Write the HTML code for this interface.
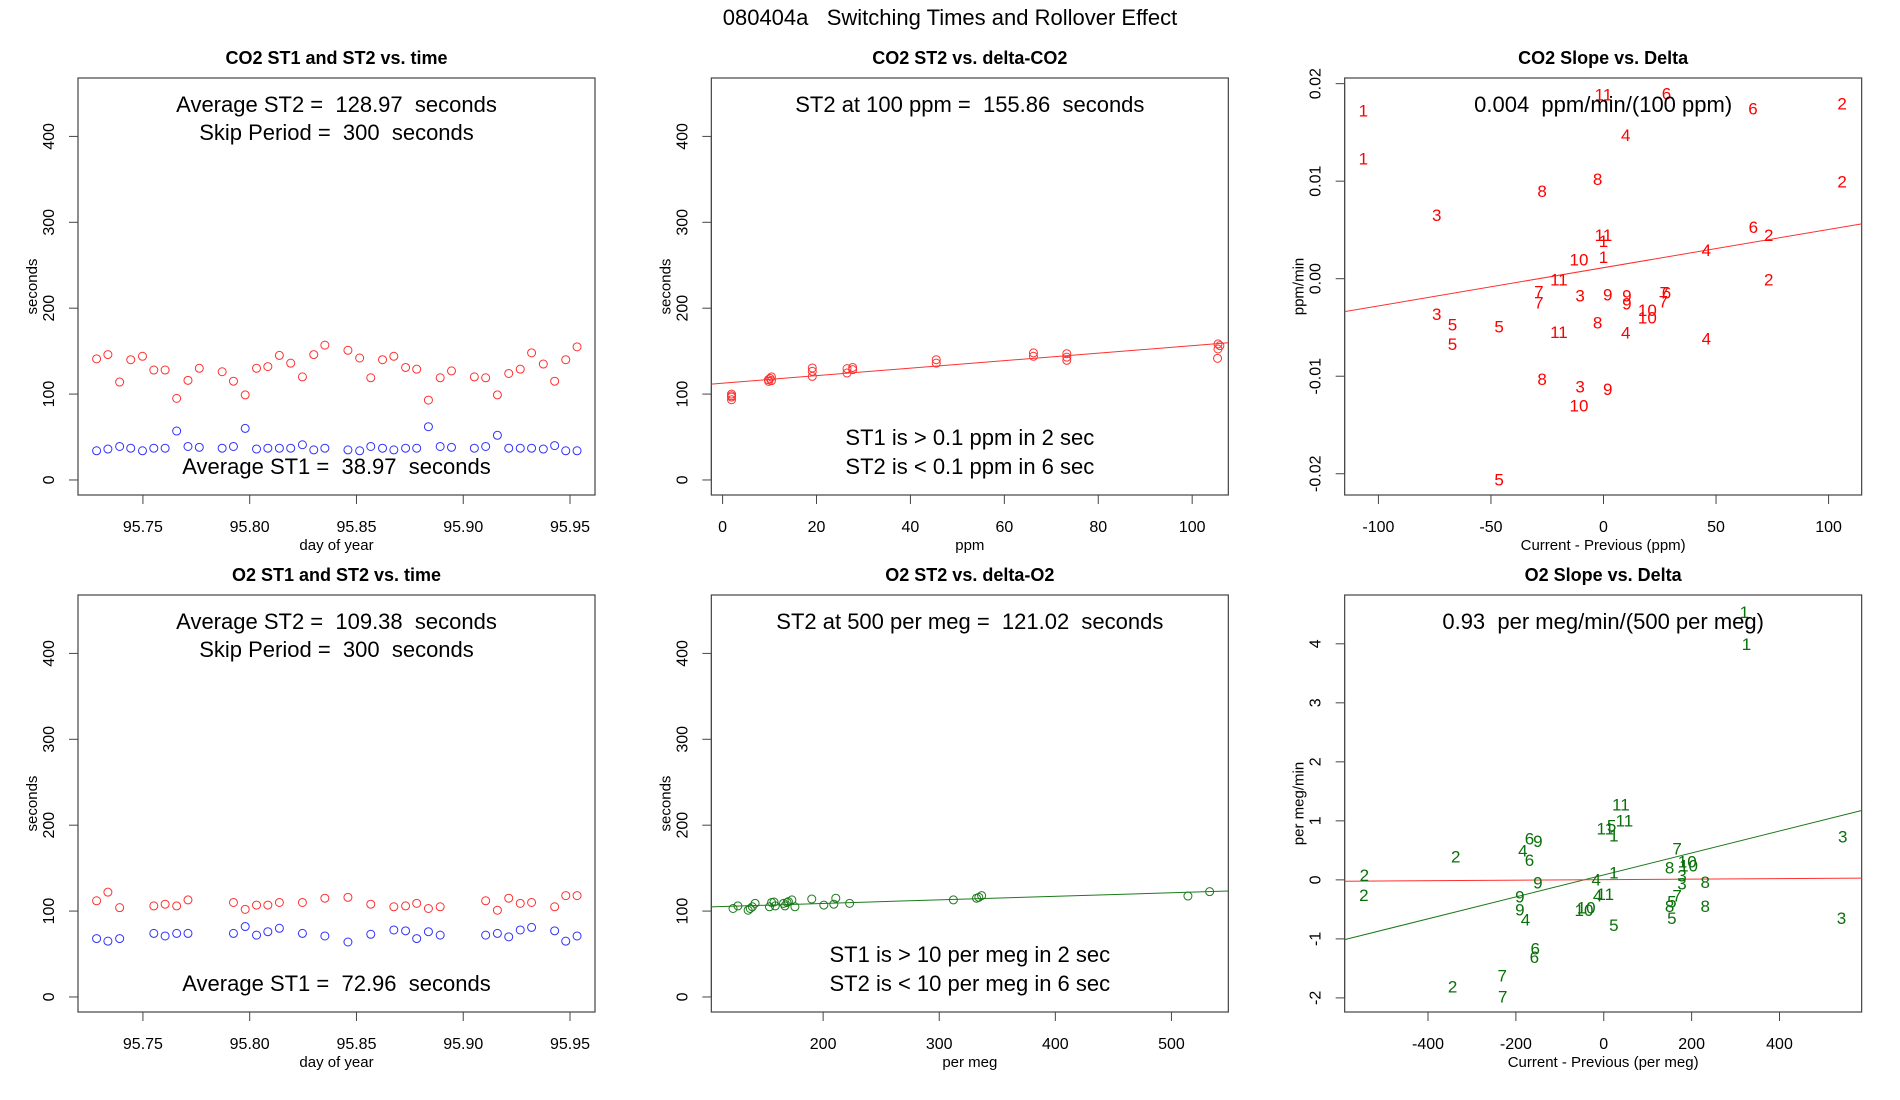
<!DOCTYPE html>
<html><head><meta charset="utf-8"><style>
html,body{margin:0;padding:0;background:#fff}
svg{display:block}
text{font-family:"Liberation Sans",Arial,sans-serif;fill:#000;white-space:pre}
</style></head>
<body>
<svg id="fig" width="1900" height="1100" viewBox="0 0 1900 1100" xmlns="http://www.w3.org/2000/svg" xml:space="preserve">
<rect width="1900" height="1100" fill="#fff"/>
<text x="950" y="25" text-anchor="middle" font-size="22">080404a   Switching Times and Rollover Effect</text>
</svg>
<script>
// ---- Panel 1: CO2 vs time ----
const co2Time = [95.7283,95.7336,95.7391,95.7443,95.7498,95.7551,95.7604,95.7658,95.7711,95.7764,95.7871,95.7924,95.7979,95.8032,95.8085,95.8139,95.8192,95.8247,95.8300,95.8352,95.8460,95.8515,95.8567,95.8622,95.8675,95.8730,95.8782,95.8837,95.8892,95.8945,95.9052,95.9105,95.9160,95.9213,95.9267,95.9320,95.9375,95.9428,95.9480,95.9533];
const co2ST2 = [141,146,114,140,144,128,128,95,116,130,126,115,99,130,132,145,136,120,146,157,151,142,119,140,144,131,129,93,119,127,120,119,99,124,129,148,135,115,140,155];
const co2ST1 = [34,36,39,37,34,37,37,57,39,38,37,39,60,36,37,37,37,41,35,37,35,34,39,37,35,37,37,62,39,38,37,39,52,37,37,37,36,40,34,34];
// ---- Panel 4: O2 vs time ----
const o2Time = [95.7283,95.7336,95.7391,95.7551,95.7604,95.7658,95.7711,95.7924,95.7979,95.8032,95.8085,95.8139,95.8247,95.8352,95.8460,95.8567,95.8675,95.8730,95.8782,95.8837,95.8892,95.9105,95.9160,95.9213,95.9267,95.9320,95.9428,95.9480,95.9533];
const o2ST2 = [112,122,104,106,108,106,113,110,102,107,107,110,110,115,116,108,105,106,109,103,105,112,101,115,109,110,105,118,118];
const o2ST1 = [68,65,68,74,71,74,74,74,82,72,76,80,74,71,64,73,78,77,68,76,72,72,74,70,78,81,77,65,71];
const timeTicks = [95.75,95.80,95.85,95.90,95.95];
const secTicks = [0,100,200,300,400];
// ---- Panel 2: CO2 ST2 vs delta ----
const co2Delta = [1.9,1.9,1.9,1.9,9.75,10.1,10.4,9.8,10.4,19.1,19.1,19.1,26.5,26.5,27.7,27.7,45.5,45.5,66.2,66.2,73.3,73.3,73.3,105.5,105.5,105.4,105.9];
const co2DeltaST2 = [100,96.5,93.4,98,116.7,118.3,120,114.8,115.6,130.4,126.5,120.6,129.6,124.5,131,128.4,140,136,147.9,144,147,143,139.3,158.4,152.5,141.6,156.4];
const co2FitLine = [112.7,0.437]; // intercept, slope
const ppmTicks = [0,20,40,60,80,100];
// ---- Panel 5: O2 ST2 vs delta ----
const o2Delta = [122.4,126.6,135.4,137.2,139,141.4,153.8,155.6,157.7,158.8,165.9,167.1,168.9,170.1,173.1,175.7,190.2,200.6,209.2,210.9,222.8,312.2,332.1,334.1,336.5,514.2,532.9];
const o2DeltaST2 = [103,106,101,103,105,109,105,110,110.5,106,109,106,110,111,113,105,114,107,108,115,109,113,115,116,118,117.5,122.6];
const o2FitLine = [100.6,0.0414];
const permegTicks = [200,300,400,500];
// ---- Panel 3: CO2 slope vs delta ----
const co2SlopeLabels = ["1","1","11","6","6","2","4","8","8","2","3","6","2","11","1","4","10","1","11","2","7","7","3","9","9","9","7","6","7","10","10","3","5","5","5","8","11","4","4","8","3","9","10","5"];
const co2SlopeX = [-106.7,-106.7,0,28,66.4,106,9.9,-2.6,-27.3,106,-74.1,66.6,73.4,0,0,45.7,-10.9,0,-19.8,73.4,-28.7,-28.7,-10.4,1.9,10.4,10.4,27,28,26.6,19.5,19.5,-74.1,-67.1,-46.4,-67.1,-2.6,-19.8,9.9,45.7,-27.3,-10.4,1.9,-10.9,-46.4];
const co2SlopeY = [0.01727,0.01232,0.0189,0.0190,0.01744,0.01795,0.01471,0.01024,0.0090,0.00997,0.00655,0.00529,0.00447,0.00447,0.00386,0.00294,0.00198,0.00225,-0.00007,-0.00007,-0.00133,-0.00242,-0.00171,-0.0016,-0.00174,-0.00253,-0.00143,-0.00143,-0.00235,-0.0032,-0.00396,-0.00362,-0.00468,-0.00491,-0.00672,-0.0045,-0.00546,-0.00553,-0.00611,-0.01031,-0.01106,-0.0113,-0.013,-0.02061];
const co2SlopeFit = [0.00113,0.0000392];
const co2SlopeXTicks = [-100,-50,0,50,100];
const co2SlopeYTicks = [-0.02,-0.01,0.00,0.01,0.02];
const co2SlopeYTickLabels = ["-0.02","-0.01","0.00","0.01","0.02"];
// ---- Panel 6: O2 slope vs delta ----
const o2SlopeLabels = ["1","1","11","11","5","11","1","6","9","4","6","2","7","10","10","8","1","2","3","4","9","3","8","2","9","4","11","7","5","8","8","9","10","10","4","5","3","3","5","6","6","7","2","7"];
const o2SlopeX = [320,325,39,47,18,3.5,23,-169,-150,-184,-169,-337,167,190,193,150,23,-545,178,-17,-150,178,231,-546,-191,-14,3.5,167,155,150,231,-191,-45,-40,-178,155,541,544,23,-156,-158,-231,-344,-230];
const o2SlopeY = [4.536,3.994,1.275,1.007,0.92,0.868,0.75,0.70,0.658,0.50,0.338,0.40,0.53,0.31,0.24,0.21,0.122,0.08,0.076,0.006,-0.047,-0.064,-0.04,-0.256,-0.285,-0.268,-0.239,-0.268,-0.367,-0.44,-0.44,-0.5,-0.51,-0.47,-0.675,-0.646,-0.646,0.734,-0.763,-1.159,-1.304,-1.624,-1.81,-1.974];
const o2SlopeFit = [0.084,0.00186];
const o2SlopeZeroFit = [0.003,0.0000442];
const o2SlopeXTicks = [-400,-200,0,200,400];
const o2SlopeYTicks = [-2,-1,0,1,2,3,4];

const svg = document.getElementById('fig');
const NS = 'http://www.w3.org/2000/svg';
function mk(tag, attrs, parent){
  const e = document.createElementNS(NS, tag);
  for (const k in attrs) e.setAttribute(k, attrs[k]);
  (parent||svg).appendChild(e);
  return e;
}
function txt(x,y,s,size,parent,extra){
  const t = mk('text',Object.assign({x:x,y:y,'font-size':size,'text-anchor':'middle'},extra||{}),parent);
  t.textContent = s;
  return t;
}
function panel(col,row,xd,yd,name){
  const g = mk('g',{});
  
  
  const x0 = 78 + 633.33*col, x1 = 595 + 633.33*col;
  const y0 = 78 + 517*row, y1 = 495 + 517*row;
  const sx = v => x0 + (v-xd[0])/(xd[1]-xd[0])*(x1-x0);
  const sy = v => y1 - (v-yd[0])/(yd[1]-yd[0])*(y1-y0);
  return {g,x0,x1,y0,y1,sx,sy};
}
function frame(p,title,xlab,ylab,xt,xtl,yt,ytl){
  const box = mk('rect',{x:p.x0,y:p.y0,width:p.x1-p.x0,height:p.y1-p.y0,fill:'none',stroke:'#444','stroke-width':1.2},p.g);
  
  
  const cx = (p.x0+p.x1)/2;
  const tt = txt(cx,p.y0-14,title,18,p.g,{'font-weight':'bold'});
  
  
  mk('line',{x1:p.sx(xt[0]),x2:p.sx(xt[xt.length-1]),y1:p.y1,y2:p.y1,stroke:'#444'},p.g);
  xt.forEach((v,i)=>{
    mk('line',{x1:p.sx(v),x2:p.sx(v),y1:p.y1,y2:p.y1+9,stroke:'#444'},p.g);
    const l = txt(p.sx(v),p.y1+37,xtl[i],16,p.g);
    
    
  });
  const xl = txt(cx,p.y1+55,xlab,15,p.g);
  
  
  mk('line',{x1:p.x0,x2:p.x0,y1:p.sy(yt[0]),y2:p.sy(yt[yt.length-1]),stroke:'#444'},p.g);
  yt.forEach((v,i)=>{
    const y = p.sy(v);
    mk('line',{x1:p.x0-9,x2:p.x0,y1:y,y2:y,stroke:'#444'},p.g);
    const l = txt(0,0,ytl[i],16,p.g,{transform:`translate(${p.x0-24},${y}) rotate(-90)`});
    
    
  });
  const yl = txt(0,0,ylab,15,p.g,{transform:`translate(${p.x0-41},${(p.y0+p.y1)/2}) rotate(-90)`});
  
  
}
function note(p,y,s){
  const t = txt((p.x0+p.x1)/2,p.y0+y,s,22,p.g);
  
  
}
function circles(p,xs,ys,color){
  xs.forEach((v,i)=>{
    const c = mk('circle',{cx:p.sx(v),cy:p.sy(ys[i]),r:4,fill:'none',stroke:color,'stroke-width':1},p.g);
    
    
  });
}
function fitLine(p,xd,fit,color){
  const l = mk('line',{x1:p.sx(xd[0]),y1:p.sy(fit[0]+fit[1]*xd[0]),x2:p.sx(xd[1]),y2:p.sy(fit[0]+fit[1]*xd[1]),stroke:color,'stroke-width':1},p.g);
  
  
}
function labels(p,xs,ys,labs,color){
  xs.forEach((v,i)=>{
    const t = txt(p.sx(v),p.sy(ys[i])+6,labs[i],17,p.g,{style:'fill:'+color});
    
    
  });
}
const secD = [-17.5,468];
const timeD = [95.7196,95.9617];
const secL = secTicks.map(String);
const timeL = timeTicks.map(v=>v.toFixed(2));

let p = panel(0,0,timeD,secD,'co2-time-panel');
frame(p,'CO2 ST1 and ST2 vs. time','day of year','seconds',timeTicks,timeL,secTicks,secL);
circles(p,co2Time,co2ST2,'#ff3030');
circles(p,co2Time,co2ST1,'#3030ff');
note(p,34,'Average ST2 =  128.97  seconds');
note(p,62,'Skip Period =  300  seconds');
note(p,396,'Average ST1 =  38.97  seconds');

const ppmD = [-2.4,107.7];
p = panel(1,0,ppmD,secD,'co2-delta-panel');
frame(p,'CO2 ST2 vs. delta-CO2','ppm','seconds',ppmTicks,ppmTicks.map(String),secTicks,secL);
circles(p,co2Delta,co2DeltaST2,'#ff3030');
fitLine(p,ppmD,co2FitLine,'#ff3030');
note(p,34,'ST2 at 100 ppm =  155.86  seconds');
note(p,367,'ST1 is > 0.1 ppm in 2 sec');
note(p,396,'ST2 is < 0.1 ppm in 6 sec');

const c3x = [-115,114.7], c3y = [-0.02218,0.02058];
p = panel(2,0,c3x,c3y,'co2-slope-panel');
frame(p,'CO2 Slope vs. Delta','Current - Previous (ppm)','ppm/min',co2SlopeXTicks,co2SlopeXTicks.map(String),co2SlopeYTicks,co2SlopeYTickLabels);
fitLine(p,c3x,co2SlopeFit,'#ff3030');
labels(p,co2SlopeX,co2SlopeY,co2SlopeLabels,'#ff0000');
note(p,34,'0.004  ppm/min/(100 ppm)');

p = panel(0,1,timeD,secD,'o2-time-panel');
frame(p,'O2 ST1 and ST2 vs. time','day of year','seconds',timeTicks,timeL,secTicks,secL);
circles(p,o2Time,o2ST2,'#ff3030');
circles(p,o2Time,o2ST1,'#3030ff');
note(p,34,'Average ST2 =  109.38  seconds');
note(p,62,'Skip Period =  300  seconds');
note(p,396,'Average ST1 =  72.96  seconds');

const pmD = [103.7,549];
p = panel(1,1,pmD,secD,'o2-delta-panel');
frame(p,'O2 ST2 vs. delta-O2','per meg','seconds',permegTicks,permegTicks.map(String),secTicks,secL);
circles(p,o2Delta,o2DeltaST2,'#1a7a1a');
fitLine(p,pmD,o2FitLine,'#1a7a1a');
note(p,34,'ST2 at 500 per meg =  121.02  seconds');
note(p,367,'ST1 is > 10 per meg in 2 sec');
note(p,396,'ST2 is < 10 per meg in 6 sec');

const c6x = [-589.7,587], c6y = [-2.239,4.827];
p = panel(2,1,c6x,c6y,'o2-slope-panel');
frame(p,'O2 Slope vs. Delta','Current - Previous (per meg)','per meg/min',o2SlopeXTicks,o2SlopeXTicks.map(String),o2SlopeYTicks,o2SlopeYTicks.map(String));
fitLine(p,c6x,o2SlopeFit,'#1a7a1a');
fitLine(p,c6x,o2SlopeZeroFit,'#ff3030');
labels(p,o2SlopeX,o2SlopeY,o2SlopeLabels,'#0a700a');
note(p,34,'0.93  per meg/min/(500 per meg)');
</script>
</body></html>
